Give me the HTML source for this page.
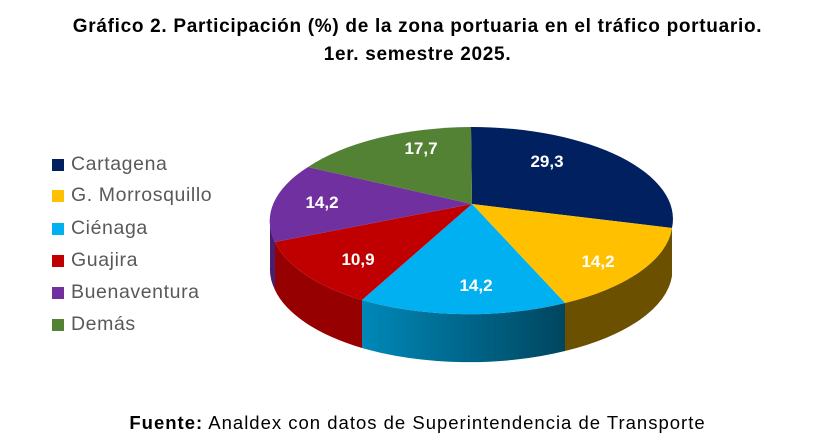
<!DOCTYPE html>
<html><head><meta charset="utf-8"><style>
body{margin:0;width:835px;height:437px;background:#fff;font-family:"Liberation Sans",sans-serif;overflow:hidden;position:relative}
.t{position:absolute;left:0;width:835px;text-align:center;font-weight:bold;font-size:19px;letter-spacing:0.7px;color:#000}
.lg{position:absolute;left:52px;font-size:19.5px;letter-spacing:0.6px;color:#595959;line-height:20px}
.lg span{display:inline-block;width:12px;height:12px;margin-right:7px;vertical-align:-1px}
</style></head><body>
<div class="t" style="top:16px">Gráfico 2. Participación (%) de la zona portuaria en el tráfico portuario.</div>
<div class="t" style="top:44px">1er. semestre 2025.</div>
<div class="lg" style="top:154px"><span style="background:#002060"></span>Cartagena</div>
<div class="lg" style="top:185px"><span style="background:#ffc000"></span>G. Morrosquillo</div>
<div class="lg" style="top:218px"><span style="background:#00b0f0"></span>Ciénaga</div>
<div class="lg" style="top:250px"><span style="background:#c00000"></span>Guajira</div>
<div class="lg" style="top:282px"><span style="background:#7030a0"></span>Buenaventura</div>
<div class="lg" style="top:314px"><span style="background:#548235"></span>Demás</div>
<svg width="835" height="437" style="position:absolute;left:0;top:0">
<defs><linearGradient id="cg" x1="0" x2="1"><stop offset="0" stop-color="#0088b8"/><stop offset="1" stop-color="#00465f"/></linearGradient></defs>
<g>
<path d="M672,219 L672,228 L672,276 L672,267 Z" fill="#001540"/>
<path d="M672,228 A201,92 0 0 1 565,303 L565,351 A201,92 0 0 0 672,276 Z" fill="#6b5000"/>
<path d="M565,303 A201,92 0 0 1 362,300 L362,348 A201,92 0 0 0 565,351 Z" fill="url(#cg)"/>
<path d="M362,300 A201,92 0 0 1 275,242 L275,290 A201,92 0 0 0 362,348 Z" fill="#960000"/>
<path d="M275,242 A201,92 0 0 1 270,219 L270,267 A201,92 0 0 0 275,290 Z" fill="#4b1f70"/>
</g>
<path d="M472,204 L471,127 A201,92 0 0 1 672,228 Z" fill="#002060"/>
<path d="M472,204 L672,228 A201,92 0 0 1 565,303 Z" fill="#ffc000"/>
<path d="M472,204 L565,303 A201,92 0 0 1 362,300 Z" fill="#00b0f0"/>
<path d="M472,204 L362,300 A201,92 0 0 1 275,242 Z" fill="#c00000"/>
<path d="M472,204 L275,242 A201,92 0 0 1 308,167 Z" fill="#7030a0"/>
<path d="M472,204 L308,167 A201,92 0 0 1 471,127 Z" fill="#548235"/>
<g fill="#fff" font-weight="bold" font-size="17" text-anchor="middle" font-family="Liberation Sans,sans-serif">
<text x="547" y="167">29,3</text>
<text x="598" y="267">14,2</text>
<text x="476" y="291">14,2</text>
<text x="358" y="265">10,9</text>
<text x="322" y="208">14,2</text>
<text x="421" y="154">17,7</text>
</g>
</svg>
<div style="position:absolute;top:412px;left:0;width:835px;text-align:center;font-size:18.5px;letter-spacing:1px;color:#000"><b>Fuente:</b> Analdex con datos de Superintendencia de Transporte</div>
</body></html>
